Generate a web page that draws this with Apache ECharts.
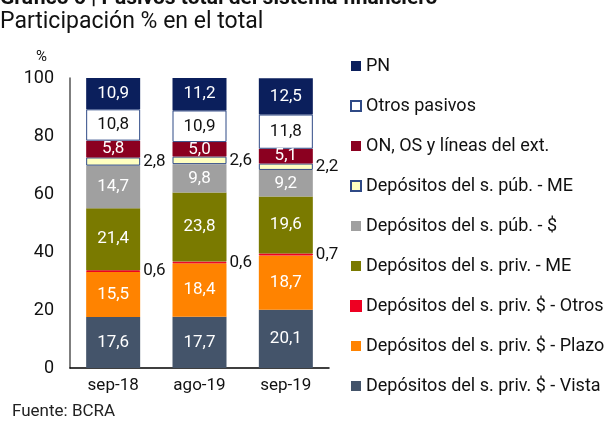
<!DOCTYPE html>
<html>
<head>
<meta charset="utf-8">
<script src="https://cdn.jsdelivr.net/npm/echarts@6/dist/echarts.min.js"></script>
<style>
    html, body { margin: 0; padding: 0; background: #fff; }
    #chart { width: 608px; height: 421px; }
</style>
</head>
<body>
<div id="chart"></div>
<script>
// periodos
const categories = ['sep-18', 'ago-19', 'sep-19']

// participación % (de abajo hacia arriba)
const vista = [17.6, 17.7, 20.1]
const plazo = [15.5, 18.4, 18.7]
const otrosPriv = [0.6, 0.6, 0.7]
const privME = [21.4, 23.8, 19.6]
const pubPesos = [14.7, 9.8, 9.2]
const pubME = [2.8, 2.6, 2.2]
const onOs = [5.8, 5.0, 5.1]
const otrosPasivos = [10.8, 10.9, 11.8]
const pn = [10.9, 11.2, 12.5]

const yTicks = [0, 20, 40, 60, 80, 100]

const font = 'Roboto'
const fmt = (p) => p.value.toFixed(1).replace('.', ',')

const mkSeries = (name, data, color, opts) => {
    opts = opts || {}
    return {
        name: name,
        type: 'bar',
        stack: 'total',
        barWidth: 54,
        data: data,
        itemStyle: {
            color: color,
            borderColor: opts.border || color,
            borderWidth: opts.borderWidth || 0
        },
        label: {
            show: true,
            position: opts.pos || 'inside',
            distance: 3,
            color: opts.labelColor || '#fff',
            fontFamily: font,
            fontSize: 17,
            formatter: fmt
        }
    }
}

const chart = echarts.init(document.getElementById('chart'))
chart.setOption({
    animation: false,
    textStyle: { fontFamily: font },
    title: [
        {
            text: 'Gráfico 6 | Pasivos total del sistema financiero',
            left: 0,
            top: -12,
            padding: 0,
            textStyle: { fontFamily: font, fontSize: 21, fontWeight: 'bold', color: '#111' }
        },
        {
            text: 'Participación % en el total',
            left: 0,
            top: 11,
            padding: 0,
            textStyle: { fontFamily: font, fontSize: 23, fontWeight: 'normal', color: '#111' }
        },
        {
            text: '%',
            left: 36,
            top: 50,
            padding: 0,
            textStyle: { fontFamily: font, fontSize: 15, fontWeight: 'normal', color: '#111' }
        },
        {
            text: 'Fuente: BCRA',
            left: 12,
            top: 403,
            padding: 0,
            textStyle: { fontFamily: font, fontSize: 17, fontWeight: 'normal', color: '#222' }
        }
    ],
    legend: {
        orient: 'vertical',
        left: 350,
        top: 57,
        padding: 0,
        itemWidth: 10,
        itemHeight: 10,
        itemGap: 22,
        icon: 'rect',
        textStyle: { fontFamily: font, fontSize: 18, color: '#111' },
        data: ['PN', 'Otros pasivos', 'ON, OS y líneas del ext.', 'Depósitos del s. púb. - ME',
            'Depósitos del s. púb. - $', 'Depósitos del s. priv. - ME', 'Depósitos del s. priv. $ - Otros',
            'Depósitos del s. priv. $ - Plazo', 'Depósitos del s. priv. $ - Vista']
    },
    grid: { left: 70, right: 279, top: 78, bottom: 53 },
    xAxis: {
        type: 'category',
        data: categories,
        axisLine: { lineStyle: { color: '#000', width: 1.5 } },
        axisTick: { show: false },
        axisLabel: { color: '#111', fontSize: 17, fontFamily: font, margin: 9 }
    },
    yAxis: {
        type: 'value',
        min: yTicks[0],
        max: yTicks[yTicks.length - 1],
        interval: 20,
        axisLine: { show: true, lineStyle: { color: '#555', width: 1.5 } },
        axisTick: { show: false },
        splitLine: { show: false },
        axisLabel: { color: '#111', fontSize: 18, fontFamily: font, margin: 16 }
    },
    series: [
        mkSeries('Depósitos del s. priv. $ - Vista', vista, '#44546a'),
        mkSeries('Depósitos del s. priv. $ - Plazo', plazo, '#ff8300'),
        mkSeries('Depósitos del s. priv. $ - Otros', otrosPriv, '#ee0022', { pos: 'right', labelColor: '#111', border: '#ee0022', borderWidth: 1 }),
        mkSeries('Depósitos del s. priv. - ME', privME, '#7a7a00'),
        mkSeries('Depósitos del s. púb. - $', pubPesos, '#a0a0a0'),
        mkSeries('Depósitos del s. púb. - ME', pubME, '#ffffc0', { pos: 'right', labelColor: '#111', border: '#2f4a86', borderWidth: 1 }),
        mkSeries('ON, OS y líneas del ext.', onOs, '#8b0020'),
        mkSeries('Otros pasivos', otrosPasivos, '#ffffff', { labelColor: '#111', border: '#2f4a86', borderWidth: 1 }),
        mkSeries('PN', pn, '#0b1f5c')
    ]
})
</script>
</body>
</html>
